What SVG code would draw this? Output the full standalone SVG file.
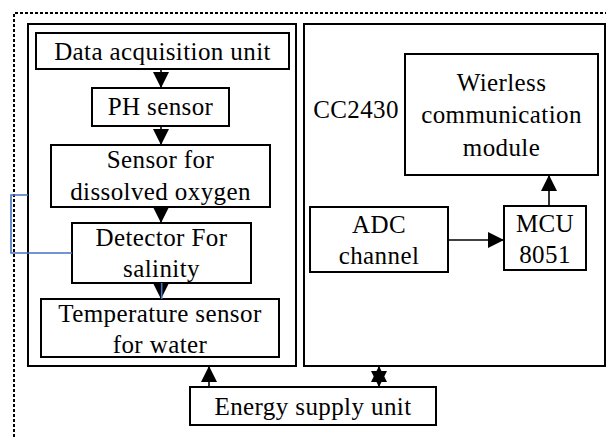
<svg xmlns="http://www.w3.org/2000/svg" width="606" height="437" viewBox="0 0 606 437">
<style>
.box{fill:#fff;stroke:#000;stroke-width:2}
.frame{fill:none;stroke:#000;stroke-width:2}
.t{font-family:'Liberation Serif','DejaVu Serif',serif;font-size:25px;fill:#000;text-anchor:middle;letter-spacing:0.4px}
.con{stroke:#000;stroke-width:1.6;fill:none}
.blue{stroke:#4472C4;stroke-width:1.6;fill:none}
</style>
<defs>
<marker id="ah" viewBox="0 0 16 16" refX="16" refY="8" markerWidth="16" markerHeight="16" markerUnits="userSpaceOnUse" orient="auto-start-reverse">
<path d="M0,0 L16,8 L0,16 z" fill="#000"/>
</marker>
</defs>
<rect width="606" height="437" fill="#fff"/>
<path d="M14,437 V13 H606" fill="none" stroke="#000" stroke-width="2" stroke-dasharray="3,2"/>
<g id="sensing-group"><rect class="frame" x="28" y="24" width="268" height="342"/></g>
<g id="cc2430-group"><rect class="frame" x="304" y="24" width="301" height="342"/><text class="t" font-family="Liberation Serif, serif" x="356" y="118">CC2430</text></g>
<g id="data-acquisition"><rect class="box" x="36" y="33" width="253" height="36"/><text class="t" font-family="Liberation Serif, serif" x="162.5" y="60">Data acquisition unit</text></g>
<g id="ph-sensor"><rect class="box" x="92" y="88" width="137" height="38"/><text class="t" font-family="Liberation Serif, serif" x="160.5" y="115">PH sensor</text></g>
<g id="oxygen-sensor"><rect class="box" x="51" y="145" width="219" height="62"/><text class="t" x="160.5" y="168">Sensor for</text><text class="t" x="160.5" y="200">dissolved oxygen</text></g>
<g id="salinity-detector"><rect class="box" x="72" y="223" width="179" height="60"/><text class="t" x="161.5" y="246">Detector For</text><text class="t" x="161.5" y="277">salinity</text></g>
<g id="temperature-sensor"><rect class="box" x="41" y="299" width="238" height="58"/><text class="t" x="160" y="322">Temperature sensor</text><text class="t" x="160" y="353">for water</text></g>
<g id="wireless-module"><rect class="box" x="405" y="54" width="193" height="121"/><text class="t" x="501.5" y="91">Wierless</text><text class="t" x="501.5" y="123">communication</text><text class="t" x="501.5" y="156">module</text></g>
<g id="adc-channel"><rect class="box" x="310" y="207" width="138" height="65"/><text class="t" x="379" y="233">ADC</text><text class="t" x="379" y="264">channel</text></g>
<g id="mcu"><rect class="box" x="504" y="206" width="82" height="64"/><text class="t" x="545" y="232">MCU</text><text class="t" x="545" y="263">8051</text></g>
<g id="energy-supply"><rect class="box" x="190" y="387" width="246" height="38"/><text class="t" x="313" y="415">Energy supply unit</text></g>
<g id="connectors">
<line class="con" x1="161" y1="69" x2="161" y2="88" marker-end="url(#ah)"/>
<line class="con" x1="161" y1="126" x2="161" y2="145" marker-end="url(#ah)"/>
<line class="con" x1="161" y1="207" x2="161" y2="223" marker-end="url(#ah)"/>
<line class="con" x1="161" y1="283" x2="161" y2="299" marker-end="url(#ah)"/>
<line class="blue" x1="161.7" y1="283" x2="161.7" y2="299"/>
<path class="blue" d="M72,253 H11 V195 H28"/>
<line class="con" x1="448" y1="240" x2="504" y2="240" marker-end="url(#ah)"/>
<line class="con" x1="549" y1="206" x2="549" y2="175" marker-end="url(#ah)"/>
<line class="con" x1="209" y1="387" x2="209" y2="366" marker-end="url(#ah)"/>
<line class="con" x1="379" y1="387" x2="379" y2="366" marker-start="url(#ah)" marker-end="url(#ah)"/>
</g>
</svg>
